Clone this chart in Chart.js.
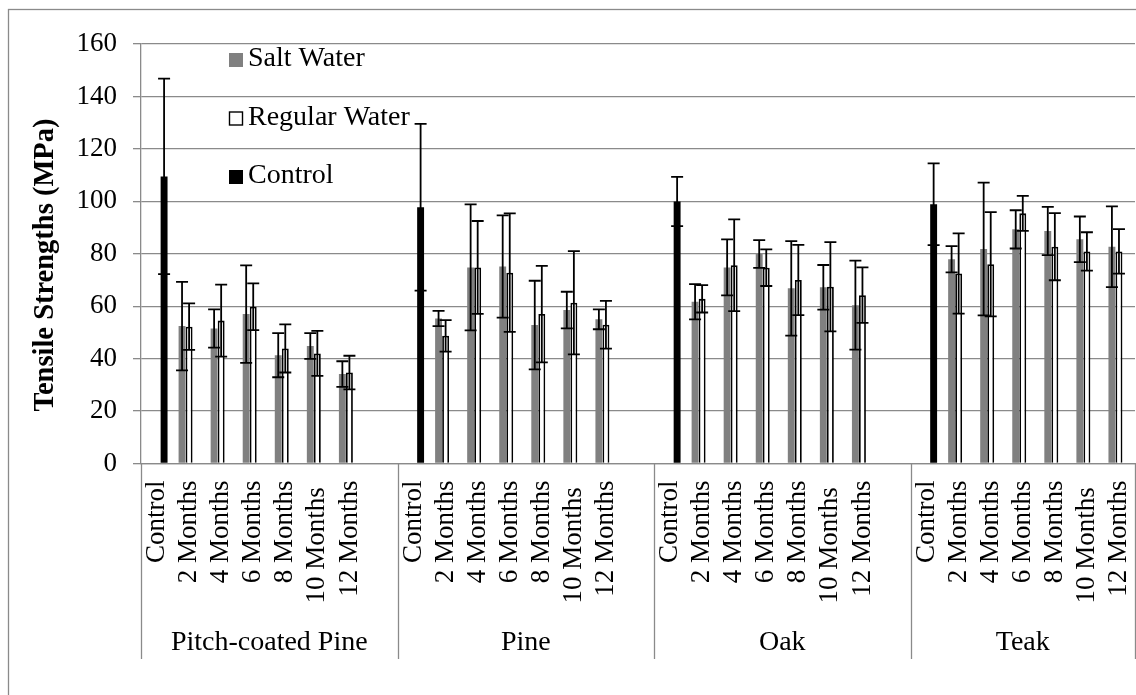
<!DOCTYPE html>
<html><head><meta charset="utf-8">
<script src="https://cdn.jsdelivr.net/npm/chart.js@4.4.1/dist/chart.umd.min.js"></script>
<style>
html,body{margin:0;padding:0;background:#fff;}
#wrap{width:1136px;height:695px;position:relative;overflow:hidden;}
</style></head><body>
<div id="wrap"><canvas id="c" width="1136" height="695"></canvas></div>
<script>
// ---- data ----
const groupNames = ['Pitch-coated Pine', 'Pine', 'Oak', 'Teak'];
const periodLabels = ['Control', '2 Months', '4 Months', '6 Months', '8 Months', '10 Months ', '12 Months'];
const seriesNames = ['Salt Water', 'Regular Water', 'Control'];
const yAxisTitle = 'Tensile Strengths (MPa)';
const yTicks = [0, 20, 40, 60, 80, 100, 120, 140, 160];

// one value per wood (control specimens)
const controlValues = [109.5, 97.7, 99.9, 98.9];
const controlErrors = [37.3, 31.8, 9.4, 15.6];

// six values per wood: 2, 4, 6, 8, 10, 12 months
const saltValues = [52.4, 51.5, 57.0, 41.3, 44.8, 34.1,
                    55.3, 74.8, 75.1, 52.8, 58.5, 55.0,
                    61.7, 74.8, 79.9, 66.8, 67.2, 60.4,
                    77.9, 81.8, 89.3, 88.7, 85.5, 82.7];
const saltErrors = [16.9, 7.3, 18.6, 8.4, 4.9, 4.9,
                    2.9, 24.0, 19.5, 16.9, 7.0, 3.8,
                    6.7, 10.7, 5.3, 18.0, 8.5, 17.0,
                    5.0, 25.3, 7.3, 9.2, 8.7, 15.4];
const regularValues = [52.2, 54.5, 59.8, 43.9, 42.0, 34.7,
                       48.7, 74.8, 72.8, 57.0, 61.3, 52.9,
                       62.8, 75.6, 74.7, 70.0, 67.4, 64.2,
                       72.5, 76.0, 95.4, 82.7, 80.9, 80.9];
const regularErrors = [8.9, 13.7, 8.9, 9.2, 8.6, 6.4,
                       6.0, 17.7, 22.6, 18.4, 19.7, 9.1,
                       5.2, 17.5, 7.0, 13.4, 17.0, 10.6,
                       15.3, 19.9, 6.7, 12.8, 7.3, 8.5];

// ---- build category table (blank spacer category between woods) ----
const labels = [], salt = [], saltErr = [], reg = [], regErr = [], ctrl = [], ctrlErr = [];
const groupSpans = [];
const nMonths = periodLabels.length - 1;
groupNames.forEach((g, gi) => {
  const start = labels.length;
  periodLabels.forEach((p, pi) => {
    labels.push(p);
    if (pi === 0) {
      salt.push(null); saltErr.push(null); reg.push(null); regErr.push(null);
      ctrl.push(controlValues[gi]); ctrlErr.push(controlErrors[gi]);
    } else {
      const k = gi * nMonths + (pi - 1);
      salt.push(saltValues[k]); saltErr.push(saltErrors[k]);
      reg.push(regularValues[k]); regErr.push(regularErrors[k]);
      ctrl.push(null); ctrlErr.push(null);
    }
  });
  if (gi < groupNames.length - 1) {
    labels.push(''); salt.push(null); saltErr.push(null); reg.push(null); regErr.push(null); ctrl.push(null); ctrlErr.push(null);
  }
  groupSpans.push({ name: g, start: start, end: labels.length });
});

const SERIF = '"Liberation Serif", "Times New Roman", serif';
const GRID = '#8a8a8a';

const borderPlugin = {
  id: 'outerBorder',
  beforeDraw(chart) {
    const ctx = chart.ctx;
    ctx.save();
    ctx.fillStyle = '#fff';
    ctx.fillRect(0, 0, chart.width, chart.height);
    ctx.strokeStyle = GRID; ctx.lineWidth = 1.3;
    ctx.strokeRect(8.5, 9.5, chart.width + 20, chart.height + 20);
    ctx.restore();
  }
};

const legendPlugin = {
  id: 'insideLegend',
  beforeDatasetsDraw(chart) {
    const ctx = chart.ctx;
    const ys = [59, 117.5, 176];
    ctx.save();
    ctx.font = '28px ' + SERIF;
    ctx.textBaseline = 'middle';
    ctx.textAlign = 'left';
    chart.data.datasets.forEach((ds, i) => {
      const y = ys[i];
      const s = 14;
      ctx.fillStyle = ds.backgroundColor;
      ctx.fillRect(229, y - s / 2 + 1, s, s);
      if (ds.borderWidth) {
        ctx.strokeStyle = ds.borderColor; ctx.lineWidth = 1.4;
        ctx.strokeRect(229.5, y - s / 2 + 1.5, s - 1, s - 1);
      }
      ctx.fillStyle = '#000';
      ctx.fillText(ds.label, 248, y);
    });
    ctx.restore();
  }
};

const errorBarPlugin = {
  id: 'errorBars',
  afterDatasetsDraw(chart) {
    const ctx = chart.ctx, ys = chart.scales.y;
    ctx.save();
    ctx.strokeStyle = '#000';
    ctx.lineWidth = 1.8;
    chart.data.datasets.forEach((ds, di) => {
      const meta = chart.getDatasetMeta(di);
      meta.data.forEach((bar, i) => {
        const v = ds.data[i], e = ds.errors[i];
        if (v == null || e == null) return;
        const x = bar.x;
        const yt = ys.getPixelForValue(v + e), yb = ys.getPixelForValue(v - e);
        ctx.beginPath();
        ctx.moveTo(x, yt); ctx.lineTo(x, yb);
        ctx.moveTo(x - 6, yt); ctx.lineTo(x + 6, yt);
        ctx.moveTo(x - 6, yb); ctx.lineTo(x + 6, yb);
        ctx.stroke();
      });
    });
    ctx.restore();
  }
};

const groupAxisPlugin = {
  id: 'groupAxis',
  afterDraw(chart) {
    const ctx = chart.ctx, xs = chart.scales.x, area = chart.chartArea;
    const w = (xs.right - xs.left) / labels.length;
    ctx.save();
    ctx.strokeStyle = GRID; ctx.lineWidth = 1.3;
    const edges = [0];
    groupSpans.forEach(g => edges.push(g.end));
    edges.forEach(k => {
      const x = Math.min(Math.round(xs.left + k * w), chart.width - 1) + 0.5;
      ctx.beginPath(); ctx.moveTo(x, area.bottom); ctx.lineTo(x, 659); ctx.stroke();
    });
    ctx.fillStyle = '#000';
    ctx.font = '28px ' + SERIF;
    ctx.textAlign = 'center'; ctx.textBaseline = 'middle';
    groupSpans.forEach(g => {
      const cx = xs.left + (g.start + g.end) / 2 * w;
      ctx.fillText(g.name, cx, 643);
    });
    // y axis title
    ctx.font = 'bold 28.5px ' + SERIF;
    ctx.translate(46, 265);
    ctx.rotate(-Math.PI / 2);
    ctx.fillText(yAxisTitle, 0, 0);
    ctx.restore();
  }
};

new Chart(document.getElementById('c'), {
  type: 'bar',
  data: {
    labels: labels,
    datasets: [
      { label: seriesNames[0], data: salt, errors: saltErr, backgroundColor: '#808080', borderWidth: 0 },
      { label: seriesNames[1], data: reg, errors: regErr, backgroundColor: '#ffffff', borderColor: '#000000', borderWidth: 1.8 },
      { label: seriesNames[2], data: ctrl, errors: ctrlErr, backgroundColor: '#000000', borderWidth: 0 }
    ]
  },
  options: {
    responsive: false,
    animation: false,
    devicePixelRatio: 1,
    layout: { padding: { top: 44, left: 0, right: 1, bottom: 0 } },
    datasets: { bar: { categoryPercentage: 0.66, barPercentage: 0.98 } },
    plugins: { legend: { display: false }, tooltip: { enabled: false } },
    scales: {
      x: {
        type: 'category',
        grid: { display: false, drawTicks: false },
        border: { display: true, color: GRID, width: 1.3 },
        ticks: {
          autoSkip: false, minRotation: 90, maxRotation: 90, padding: 17,
          color: '#000', font: { family: SERIF, size: 27 }
        },
        afterFit(scale) { scale.height = 231.5; scale.paddingLeft = 0; scale.paddingRight = 0; }
      },
      y: {
        min: 0, max: 160,
        afterBuildTicks(scale) { scale.ticks = yTicks.map(v => ({ value: v })); },
        grid: { color: GRID, lineWidth: 1.3, tickLength: 8, drawTicks: true },
        border: { display: true, color: GRID, width: 1.3 },
        ticks: { padding: 16, color: '#000', font: { family: SERIF, size: 27 } },
        afterFit(scale) { scale.width = 141; scale.paddingTop = 0; scale.paddingBottom = 0; }
      }
    }
  },
  plugins: [borderPlugin, legendPlugin, errorBarPlugin, groupAxisPlugin]
});
</script>
</body></html>
